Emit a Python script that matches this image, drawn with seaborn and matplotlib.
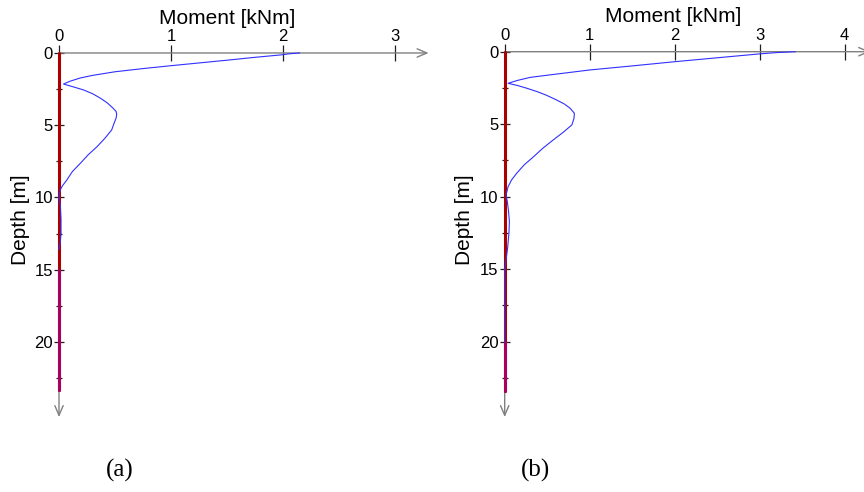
import matplotlib
matplotlib.use("Agg")
import matplotlib.pyplot as plt
from matplotlib.ticker import FixedLocator
import seaborn as sns
import pandas as pd

sns.set_style("white")
plt.rcParams["font.family"] = ["Liberation Sans", "DejaVu Sans"]
plt.rcParams["text.color"] = "black"
plt.rcParams["xtick.color"] = "black"
plt.rcParams["ytick.color"] = "black"

# ---------------- data ----------------
# panel (a)
depth_a = [0.0, 0.06, 0.12, 0.3, 0.5, 0.69, 0.88, 1.08, 1.3, 1.55, 1.73, 1.95,
           2.15, 2.35, 2.56, 2.82, 3.13, 3.45, 3.8, 4.05, 4.25, 4.5, 4.9, 5.33,
           5.9, 6.48, 7.05, 7.64, 8.2, 8.79, 9.2, 9.5, 10.0, 10.5, 11.5, 12.5,
           13.2, 13.6]
moment_a = [2.15, 2.05, 2.0, 1.75, 1.5, 1.25, 1.0, 0.75, 0.5, 0.3, 0.19, 0.1,
            0.04, 0.13, 0.22, 0.30, 0.37, 0.43, 0.48, 0.51, 0.515, 0.51, 0.49, 0.47,
            0.41, 0.34, 0.26, 0.19, 0.12, 0.07, 0.03, 0.01, 0.0, 0.012, 0.018, 0.018,
            0.01, 0.0]
# panel (b)
depth_b = [0.0, 0.06, 0.15, 0.42, 0.69, 0.98, 1.26, 1.55, 1.77, 1.98, 2.18, 2.33,
           2.52, 2.75, 3.0, 3.3, 3.6, 3.9, 4.25, 4.6, 5.05, 5.55, 6.09, 6.65, 7.24,
           7.8, 8.39, 8.85, 9.31, 9.9, 10.3, 11.0, 11.7, 12.5, 13.5, 14.4, 15.0, 20.0]
moment_b = [3.42, 3.2, 3.0, 2.5, 2.0, 1.5, 1.0, 0.6, 0.30, 0.15, 0.04, 0.15,
            0.26, 0.38, 0.49, 0.60, 0.70, 0.77, 0.82, 0.815, 0.79, 0.69, 0.57, 0.45, 0.34,
            0.23, 0.14, 0.08, 0.04, 0.015, 0.03, 0.045, 0.055, 0.05, 0.035, 0.015, 0.0, 0.0]

pile_top = [0.0, 0.0]
pile_bottom = [23.3, 23.4]
pile_lower_start = [15.0, 20.0]          # start of the purple lower pile part
axis_x_end = [3.3, 4.3]                  # moment-axis arrow end
axis_depth_end = [25.2, 25.2]            # depth-axis arrow end
x_ticks = [[0, 1, 2, 3], [0, 1, 2, 3, 4]]
y_major = [0, 5, 10, 15, 20]
y_minor = [2.5, 7.5, 12.5, 17.5, 22.5]
panel_labels = ["(a)", "(b)"]
x_title = "Moment [kNm]"
y_title = "Depth [m]"

# ---------------- layout ----------------
W, H = 864, 492
fig = plt.figure(figsize=(W / 100, H / 100), dpi=100)

axes_rects = [
    [42.2 / W, 1 - 422.9 / H, 397.6 / W, 375.7 / H],
    [491.95 / W, 1 - 422.9 / H, 386.75 / W, 377.0 / H],
]
xlims = [(-0.15, 3.4), (-0.15, 4.4)]
title_pos = [(227, 18), (673, 17)]
ylabel_pos = [(21, 220), (465, 220)]
plabel_pos = [(120, 470), (535, 470)]

panels = [(depth_a, moment_a), (depth_b, moment_b)]
gray = "#808080"

for i, (dep, mom) in enumerate(panels):
    ax = fig.add_axes(axes_rects[i])
    ax.set_facecolor("none")
    ax.set_xlim(*xlims[i])
    ax.set_ylim(25.6, -0.4)

    # pile
    pile_df = pd.DataFrame({"x": [0.0, 0.0], "d": [pile_top[i], pile_bottom[i]]})
    sns.lineplot(data=pile_df, x="x", y="d", sort=False, estimator=None,
                 color="#aa0000", lw=2.2, ax=ax, zorder=3)
    low_df = pd.DataFrame({"x": [0.0, 0.0], "d": [pile_lower_start[i], pile_bottom[i]]})
    sns.lineplot(data=low_df, x="x", y="d", sort=False, estimator=None,
                 color="#a8005c", lw=2.2, ax=ax, zorder=3)

    # moment curve
    df = pd.DataFrame({"moment": mom, "depth": dep})
    sns.lineplot(data=df, x="moment", y="depth", sort=False, estimator=None,
                 color="#3030ff", lw=0.8, ax=ax, zorder=4)

    # axes lines with arrows
    arrow = dict(arrowstyle="->,head_length=0.7,head_width=0.3", color=gray, lw=1.0,
                 shrinkA=0, shrinkB=0)
    ax.annotate("", xy=(axis_x_end[i], 0), xytext=(0, 0), arrowprops=arrow, zorder=2,
                annotation_clip=False)
    ax.annotate("", xy=(0, axis_depth_end[i]), xytext=(0, 0), arrowprops=arrow, zorder=2,
                annotation_clip=False)

    # ticks
    for s in ["bottom", "right"]:
        ax.spines[s].set_visible(False)
    ax.spines["top"].set_position(("data", 0))
    ax.spines["left"].set_position(("data", 0))
    ax.spines["top"].set_color("none")
    ax.spines["left"].set_color("none")
    ax.xaxis.tick_top()
    ax.set_xticks(x_ticks[i])
    ax.set_xticklabels([str(t) for t in x_ticks[i]])
    ax.yaxis.set_major_locator(FixedLocator(y_major))
    ax.yaxis.set_minor_locator(FixedLocator(y_minor))
    ax.set_yticklabels([str(t) for t in y_major])
    ax.tick_params(axis="x", which="major", direction="inout", length=11, width=0.9,
                   color="#202020", labelcolor="black", labelsize=12, pad=1,
                   top=True, bottom=False)
    ax.tick_params(axis="y", which="major", direction="inout", length=7, width=0.9,
                   color="#202020", labelcolor="black", labelsize=12, pad=1,
                   left=True, right=False)
    ax.tick_params(axis="y", which="minor", direction="inout", length=4, width=0.9,
                   color="#202020", left=True, right=False)
    ax.set_xlabel("")
    ax.set_ylabel("")

    fig.text(title_pos[i][0] / W, 1 - title_pos[i][1] / H, x_title, fontsize=15,
             ha="center", va="center", color="black")
    fig.text(ylabel_pos[i][0] / W, 1 - ylabel_pos[i][1] / H, y_title, fontsize=15,
             ha="center", va="center", rotation=90, color="black")
    fig.text(plabel_pos[i][0] / W, 1 - plabel_pos[i][1] / H, panel_labels[i],
             fontsize=18, ha="center", va="center", color="black",
             family=["Liberation Serif", "DejaVu Serif"])

fig.savefig("out.png", dpi=100)
